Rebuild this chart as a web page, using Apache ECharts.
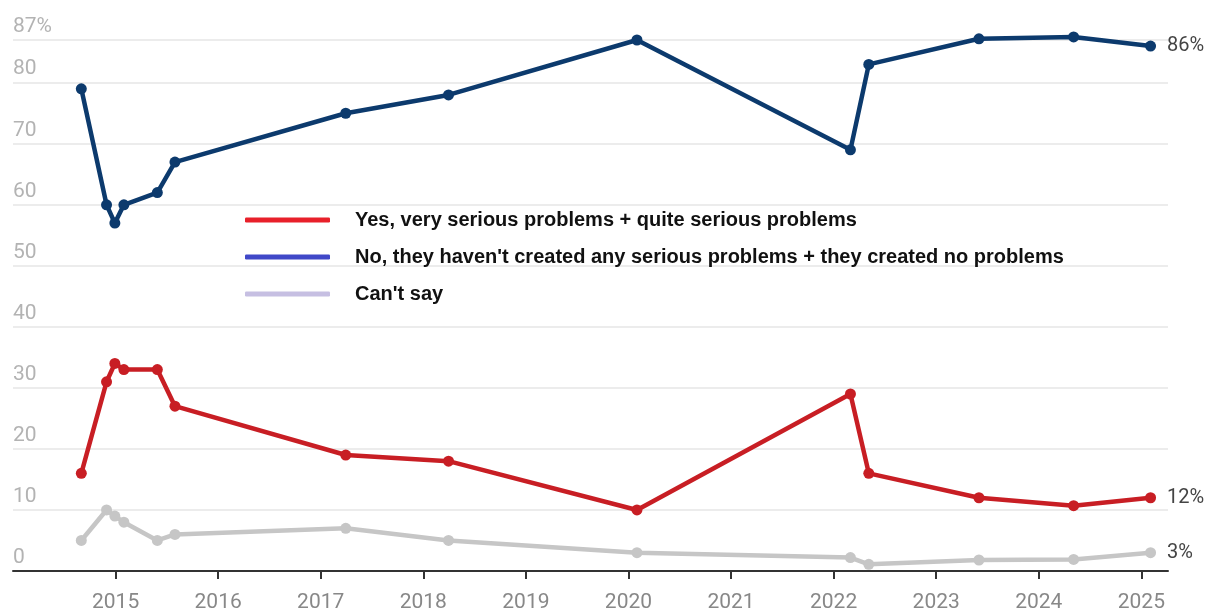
<!DOCTYPE html>
<html>
<head>
<meta charset="utf-8">
<script src="https://cdn.jsdelivr.net/npm/echarts@6/dist/echarts.min.js"></script>
<style>
  html, body { margin: 0; padding: 0; background: #ffffff; }
  #chart { width: 1205px; height: 611px; }
</style>
</head>
<body>
<div id="chart"></div>
<script>
// Survey dates (decimal years)
const dates = [2014.666, 2014.912, 2014.993, 2015.081, 2015.407, 2015.579, 2017.244, 2018.246, 2020.083, 2022.164, 2022.343, 2023.417, 2024.34, 2025.09];
const yesValues = [16, 31, 34, 33, 33, 27, 19, 18, 10, 29, 16, 12, 10.7, 12];
const noValues = [79, 60, 57, 60, 62, 67, 75, 78, 87, 69, 83, 87.2, 87.5, 86];
const cantSayValues = [5, 10, 9, 8, 5, 6, 7, 5, 3, 2.2, 1.1, 1.8, 1.9, 3];
const yearTicks = [2015, 2016, 2017, 2018, 2019, 2020, 2021, 2022, 2023, 2024, 2025];
const seriesNames = [
  'Yes, very serious problems + quite serious problems',
  "No, they haven't created any serious problems + they created no problems",
  "Can't say"
];
const endLabels = ['12%', '86%', '3%'];

function makeData(values, endLabel) {
  return values.map((v, i) => {
    const item = { value: [dates[i], v] };
    if (i === values.length - 1) {
      item.label = {
        show: true, position: 'right', distance: 11,
        formatter: endLabel, color: '#444', fontSize: 20, fontFamily: 'Roboto'
      };
    }
    return item;
  });
}

const chart = echarts.init(document.getElementById('chart'), null, { renderer: 'canvas' });
const lineColors = ['#c81e24', '#0c3a6d', '#c6c6c6'];
const legendColors = ['#e8202a', '#4048c8', '#c6bfe2'];
const valueSets = [yesValues, noValues, cantSayValues];

chart.setOption({
  animation: false,
  backgroundColor: '#ffffff',
  grid: { left: 13, right: 37, top: 40, bottom: 40, outerBoundsMode: 'none', containLabel: false },
  legend: {
    orient: 'vertical',
    left: 245, top: 210,
    padding: 0,
    itemWidth: 85, itemHeight: 5,
    itemGap: 17,
    icon: 'roundRect',
    textStyle: { fontFamily: 'Liberation Sans', fontWeight: 'bold', fontSize: 20, color: '#111', padding: [0, 0, 0, 20] },
    data: seriesNames.map((n, i) => ({ name: n, itemStyle: { color: legendColors[i] } }))
  },
  xAxis: {
    type: 'value',
    min: 2014, max: 2025.26, interval: 1,
    axisLine: { show: true, lineStyle: { color: '#333', width: 2 } },
    axisTick: { show: true, length: 8, lineStyle: { color: '#333', width: 2 }, customValues: yearTicks },
    axisLabel: { customValues: yearTicks, color: '#888', fontSize: 21, fontFamily: 'Roboto', margin: 21, formatter: v => String(v) },
    splitLine: { show: false }
  },
  yAxis: {
    type: 'value',
    min: 0, max: 87, interval: 10,
    axisLine: { show: false },
    axisTick: { show: false },
    axisLabel: {
      inside: true, margin: 0, verticalAlign: 'bottom', align: 'left',
      padding: [0, 0, 3, 0],
      color: '#b3b3b3', fontSize: 21, fontFamily: 'Roboto',
      formatter: v => (v === 87 ? '87%' : String(v))
    },
    splitLine: { show: true, lineStyle: { color: '#e6e6e6', width: 1.5 } }
  },
  series: valueSets.map((vals, i) => ({
    name: seriesNames[i],
    type: 'line',
    clip: false,
    symbol: 'circle',
    symbolSize: 11,
    lineStyle: { color: lineColors[i], width: 4.5 },
    itemStyle: { color: lineColors[i] },
    data: makeData(vals, endLabels[i]),
    z: 3 - i
  }))
});
</script>
</body>
</html>
